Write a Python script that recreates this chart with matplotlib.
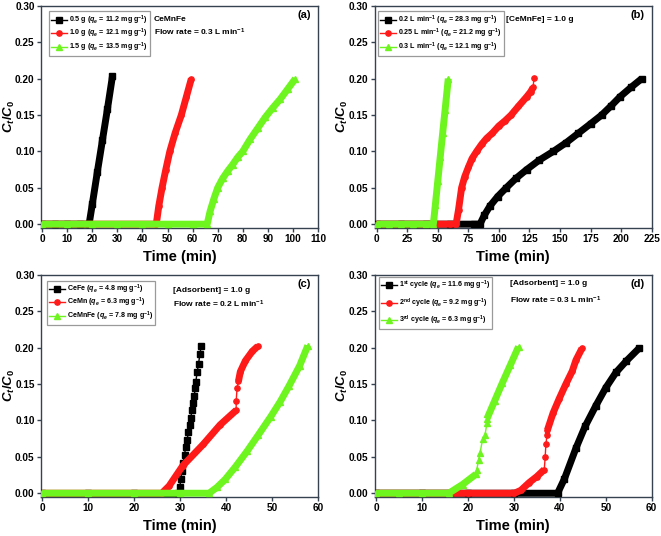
import matplotlib
matplotlib.use('Agg')
import matplotlib.pyplot as plt

plt.rcParams['font.family'] = 'Liberation Sans'
plt.rcParams['font.weight'] = 'bold'
plt.rcParams['mathtext.fontset'] = 'custom'
plt.rcParams['mathtext.rm'] = 'Liberation Sans:bold'
plt.rcParams['mathtext.bf'] = 'Liberation Sans:bold'
plt.rcParams['mathtext.it'] = 'Liberation Sans:italic:bold'
plt.rcParams['mathtext.default'] = 'bf'

# ---- (a) adsorbent dose ----
a_x1 = [0, 5, 10, 15, 18.7, 20, 22, 24, 26, 28]
a_y1 = [0, 0, 0, 0, 0, 0.028, 0.072, 0.115, 0.158, 0.203]
a_x2 = [0, 10, 20, 30, 40, 45.5, 46.5, 47.8, 49.3, 50.9, 53, 55.5, 57.5, 59.5]
a_y2 = [0, 0, 0, 0, 0, 0, 0.025, 0.05, 0.075, 0.10, 0.125, 0.15, 0.175, 0.20]
a_x3 = [0, 10, 20, 30, 40, 50, 60, 65.8, 67, 68.5, 70, 72, 74, 76, 78, 80,
        83, 86, 89, 92, 95, 98, 101]
a_y3 = [0, 0, 0, 0, 0, 0, 0, 0, 0.018, 0.035, 0.05, 0.063, 0.073, 0.082, 0.092,
        0.10, 0.117, 0.132, 0.147, 0.16, 0.172, 0.186, 0.20]
a_labels = [r'0.5 g ($\mathit{q_e}$ = 11.2 mg g$^{-1}$)',
            r'1.0 g ($\mathit{q_e}$ = 12.1 mg g$^{-1}$)',
            r'1.5 g ($\mathit{q_e}$ = 13.5 mg g$^{-1}$)']

# ---- (b) flow rate ----
b_x1 = [0, 20, 40, 60, 80, 84.5, 88, 92.7, 99, 106, 114, 122.7, 133, 144.5,
        155, 165, 175, 184, 192, 199, 208, 216.8]
b_y1 = [0, 0, 0, 0, 0, 0, 0.012, 0.025, 0.038, 0.05, 0.063, 0.075, 0.088, 0.10,
        0.112, 0.125, 0.138, 0.15, 0.163, 0.175, 0.188, 0.20]
b_x2 = [0, 20, 40, 60, 65, 67, 69.5, 72, 75, 78, 81.8, 86, 90, 94.6, 100, 105,
        110, 116, 122.7, 126, 128, 128.7]
b_y2 = [0, 0, 0, 0, 0, 0.02, 0.05, 0.065, 0.078, 0.09, 0.10, 0.11, 0.118, 0.125,
        0.135, 0.142, 0.15, 0.162, 0.175, 0.182, 0.188, 0.201]
b_x3 = [0, 10, 20, 30, 40, 46.4, 48, 50, 52, 54, 56, 58.6]
b_y3 = [0, 0, 0, 0, 0, 0, 0.026, 0.059, 0.092, 0.125, 0.157, 0.20]
b_labels = [r'0.2 L min$^{-1}$ ($\mathit{q_e}$ = 28.3 mg g$^{-1}$)',
            r'0.25 L min$^{-1}$ ($\mathit{q_e}$ = 21.2 mg g$^{-1}$)',
            r'0.3 L min$^{-1}$ ($\mathit{q_e}$ = 12.1 mg g$^{-1}$)']

# ---- (c) adsorbent type ----
c_x1 = [0, 10, 20, 29.5, 29.9, 30.15, 30.4, 30.7, 30.95, 31.2, 31.5, 31.8, 32.05,
        32.3, 32.6, 32.85, 33.1, 33.25, 33.4, 33.7, 34.0, 34.3, 34.6]
c_y1 = [0, 0, 0, 0, 0.008, 0.019, 0.031, 0.042, 0.053, 0.063, 0.073, 0.084, 0.094,
        0.104, 0.114, 0.124, 0.134, 0.144, 0.153, 0.166, 0.178, 0.191, 0.203]
c_x2 = [0, 10, 20, 26, 27.6, 30.6, 35.0, 38.7, 42.2, 42.2, 42.4, 42.7, 43.1,
        44.2, 45.7, 46.9]
c_y2 = [0, 0, 0, 0, 0.01, 0.038, 0.067, 0.094, 0.114, 0.127, 0.145, 0.154, 0.167,
        0.182, 0.195, 0.202]
c_x3 = [0, 10, 20, 30, 36.3, 38, 39.8, 42, 44.6, 47, 49.7, 51.8, 53.75, 56, 57.8]
c_y3 = [0, 0, 0, 0, 0, 0.008, 0.019, 0.036, 0.058, 0.08, 0.105, 0.126, 0.148,
        0.175, 0.203]
c_labels = [r'CeFe ($\mathit{q_e}$ = 4.8 mg g$^{-1}$)',
            r'CeMn ($\mathit{q_e}$ = 6.3 mg g$^{-1}$)',
            r'CeMnFe ($\mathit{q_e}$ = 7.8 mg g$^{-1}$)']

# ---- (d) regeneration cycles ----
d_x1 = [0, 10, 20, 30, 39.5, 41, 43.5, 45.5, 47.8, 50, 52.2, 54.5, 57.2]
d_y1 = [0, 0, 0, 0, 0, 0.02, 0.062, 0.092, 0.12, 0.145, 0.166, 0.182, 0.199]
d_x2 = [0, 10, 20, 30.1, 31.5, 33.3, 35, 36.6, 36.8, 36.95, 37.2, 37.3, 38.5,
        39.85, 41.3, 42.7, 43.5, 44.8]
d_y2 = [0, 0, 0, 0, 0.004, 0.0145, 0.023, 0.0325, 0.05, 0.067, 0.08, 0.087, 0.11,
        0.13, 0.15, 0.168, 0.183, 0.199]
d_x3 = [0, 5, 10, 15.8, 18.8, 21.7, 21.9, 22.3, 22.6, 23.2, 23.7, 24.1, 24.1,
        25.8, 27.5, 29.2, 31.0]
d_y3 = [0, 0, 0, 0, 0.012, 0.026, 0.032, 0.046, 0.055, 0.075, 0.080, 0.096, 0.102,
        0.127, 0.152, 0.176, 0.2015]
d_labels = [r'1$^{st}$ cycle ($\mathit{q_e}$ = 11.6 mg g$^{-1}$)',
            r'2$^{nd}$ cycle ($\mathit{q_e}$ = 9.2 mg g$^{-1}$)',
            r'3$^{rd}$ cycle ($\mathit{q_e}$ = 6.3 mg g$^{-1}$)']

colors = ['black', '#ff1a1a', '#6ef41e']
markers = ['s', 'o', '^']
axcol = '#36424f'


def draw(ax, x, y, k, label, dense):
    c = colors[k]
    ax.plot(x, y, color=c, lw=1, marker=markers[k], ms=3.8, mec=c, mfc=c,
            label=label, zorder=3 + k)
    # tightly packed markers look like a solid band
    for i0, i1 in dense:
        ax.plot(x[i0:i1], y[i0:i1], color=c, linewidth=5.0,
                solid_capstyle='butt', solid_joinstyle='round', zorder=3 + k)


def style(ax, xmin, xmax, xstep, tag):
    ax.set_xlim(xmin, xmax)
    ax.set_ylim(-0.005, 0.30)
    ax.set_xticks(range(0, xmax + 1, xstep))
    ax.set_yticks([0, 0.05, 0.10, 0.15, 0.20, 0.25, 0.30])
    ax.yaxis.set_major_formatter(matplotlib.ticker.FormatStrFormatter('%.2f'))
    for s in ax.spines.values():
        s.set_color(axcol)
        s.set_linewidth(1)
    ax.tick_params(direction='out', length=3, width=1, colors=axcol,
                   labelcolor='black', labelsize=7.2, pad=1.5)
    ax.set_xlabel('Time (min)', fontsize=10.5, fontweight='bold', labelpad=4)
    ax.set_ylabel(r'$\mathit{C}_\mathit{t}/\mathit{C}_\mathbf{0}$', fontsize=9.5)
    ax.yaxis.set_label_coords(-0.088, 0.5)
    ax.text(0.975, 0.96, tag, transform=ax.transAxes, ha='right', va='center',
            fontsize=8, fontweight='bold')


def legend(ax, x0, y0, spacing):
    lg = ax.legend(loc='upper left', bbox_to_anchor=(x0, y0), borderaxespad=0,
                   fontsize=5.1, handlelength=2.3, handletextpad=0.3,
                   labelspacing=spacing, borderpad=0.25, fancybox=False,
                   edgecolor='#9a9a9a', framealpha=1)
    lg.get_frame().set_linewidth(0.9)


fig = plt.figure(figsize=(6.61, 5.36), dpi=100)
ax_a = fig.add_axes([0.062, 0.575, 0.419, 0.414])
ax_b = fig.add_axes([0.567, 0.575, 0.419, 0.414])
ax_c = fig.add_axes([0.062, 0.073, 0.419, 0.414])
ax_d = fig.add_axes([0.567, 0.073, 0.419, 0.414])

# (a)
draw(ax_a, a_x1, a_y1, 0, a_labels[0], [(0, len(a_x1))])
draw(ax_a, a_x2, a_y2, 1, a_labels[1], [(0, len(a_x2))])
draw(ax_a, a_x3, a_y3, 2, a_labels[2], [(0, len(a_x3))])
style(ax_a, -0.5, 110, 10, '(a)')
legend(ax_a, 0.029, 0.975, 0.05)
ax_a.text(0.408, 0.94, 'CeMnFe', transform=ax_a.transAxes, fontsize=6,
          va='center')
ax_a.text(0.408, 0.883, r'Flow rate = 0.3 L min$^{-1}$', transform=ax_a.transAxes,
          fontsize=6, va='center')

# (b)
draw(ax_b, b_x1, b_y1, 0, b_labels[0], [(0, len(b_x1))])
draw(ax_b, b_x2, b_y2, 1, b_labels[1], [(0, len(b_x2) - 1)])
draw(ax_b, b_x3, b_y3, 2, b_labels[2], [(0, len(b_x3))])
style(ax_b, -1.5, 225, 25, '(b)')
legend(ax_b, 0.012, 0.975, 0.05)
ax_b.text(0.475, 0.937, '[CeMnFe] = 1.0 g', transform=ax_b.transAxes,
          fontsize=6, va='center')

# (c)
draw(ax_c, c_x1, c_y1, 0, c_labels[0], [(0, 4)])
draw(ax_c, c_x2, c_y2, 1, c_labels[1], [(0, 9), (11, len(c_x2))])
draw(ax_c, c_x3, c_y3, 2, c_labels[2], [(0, len(c_x3))])
style(ax_c, -0.3, 60, 10, '(c)')
legend(ax_c, 0.022, 0.975, 0.05)
ax_c.text(0.476, 0.928, '[Adsorbent] = 1.0 g', transform=ax_c.transAxes,
          fontsize=6, va='center')
ax_c.text(0.476, 0.869, r'Flow rate = 0.2 L min$^{-1}$', transform=ax_c.transAxes,
          fontsize=6, va='center')

# (d)
draw(ax_d, d_x1, d_y1, 0, d_labels[0], [(0, len(d_x1))])
draw(ax_d, d_x2, d_y2, 1, d_labels[1], [(0, 8), (11, len(d_x2))])
draw(ax_d, d_x3, d_y3, 2, d_labels[2], [(0, 6), (12, len(d_x3))])
style(ax_d, -0.3, 60, 10, '(d)')
legend(ax_d, 0.015, 0.99, 0.6)
ax_d.text(0.487, 0.96, '[Adsorbent] = 1.0 g', transform=ax_d.transAxes,
          fontsize=6, va='center')
ax_d.text(0.487, 0.887, r'Flow rate = 0.3 L min$^{-1}$', transform=ax_d.transAxes,
          fontsize=6, va='center')

fig.savefig('out.png', dpi=100)
